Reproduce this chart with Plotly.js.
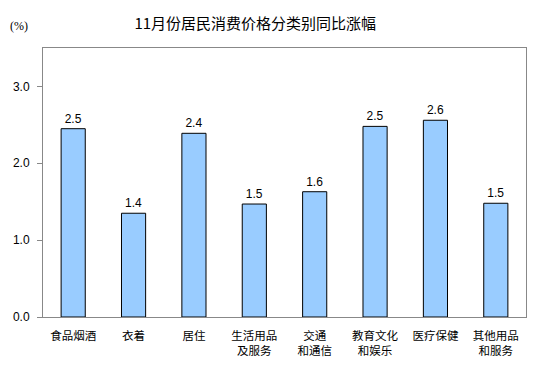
<!DOCTYPE html>
<html><head><meta charset="utf-8">
<script src="https://cdn.plot.ly/plotly-3.0.1.min.js"></script>
<style>body{margin:0;background:#fff}#c{width:543px;height:372px}</style>
</head><body><div id="c"></div>
<script>
const categories = ["食品烟酒","衣着","居住","生活用品<br>及服务","交通<br>和通信","教育文化<br>和娱乐","医疗保健","其他用品<br>和服务"];
const values = [2.45, 1.35, 2.39, 1.47, 1.63, 2.48, 2.56, 1.48];
const labels = ["2.5","1.4","2.4","1.5","1.6","2.5","2.6","1.5"];
const yTicks = [0, 1, 2, 3];
const yTickText = ["0.0","1.0","2.0","3.0"];

const trace = {
  type: 'bar', x: categories, y: values, text: labels,
  textposition: 'outside', cliponaxis: false,
  textfont: {family: 'Liberation Sans, Arial', size: 12, color: '#000'},
  marker: {color: '#99CCFF', line: {color: '#000', width: 1}},
  hoverinfo: 'none'
};
const layout = {
  width: 543, height: 372,
  margin: {l: 43, r: 17, t: 48, b: 55},
  paper_bgcolor: '#fff', plot_bgcolor: '#fff',
  bargap: 0.6,
  showlegend: false,
  title: {text: '11月份居民消费价格分类别同比涨幅', x: 0.47, xanchor: 'center', y: 0.937, yanchor: 'middle',
    font: {family: 'Noto Sans CJK SC', size: 15, color: '#000'}},
  xaxis: {type: 'category', showline: true, linecolor: '#888', linewidth: 1, mirror: true,
    ticks: 'outside', ticklen: 8, tickcolor: 'rgba(0,0,0,0)', showgrid: false, zeroline: false,
    tickfont: {family: 'Noto Sans CJK SC', size: 11.5, color: '#000'}},
  yaxis: {range: [0, 3.5], tickvals: yTicks, ticktext: yTickText, showline: true, linecolor: '#888', linewidth: 1,
    mirror: true, ticks: 'outside', ticklen: 5, tickcolor: '#888', ticklabelstandoff: 5, showgrid: false, zeroline: false,
    tickfont: {family: 'Liberation Sans, Arial', size: 12, color: '#000'}},
  annotations: [{text: '(%)', xref: 'paper', yref: 'paper', x: -0.05, y: 1.08, xanchor: 'center', yanchor: 'middle',
    showarrow: false, font: {family: 'Liberation Serif', size: 12, color: '#000'}}]
};
Plotly.newPlot('c', [trace], layout, {staticPlot: true});
</script></body></html>
